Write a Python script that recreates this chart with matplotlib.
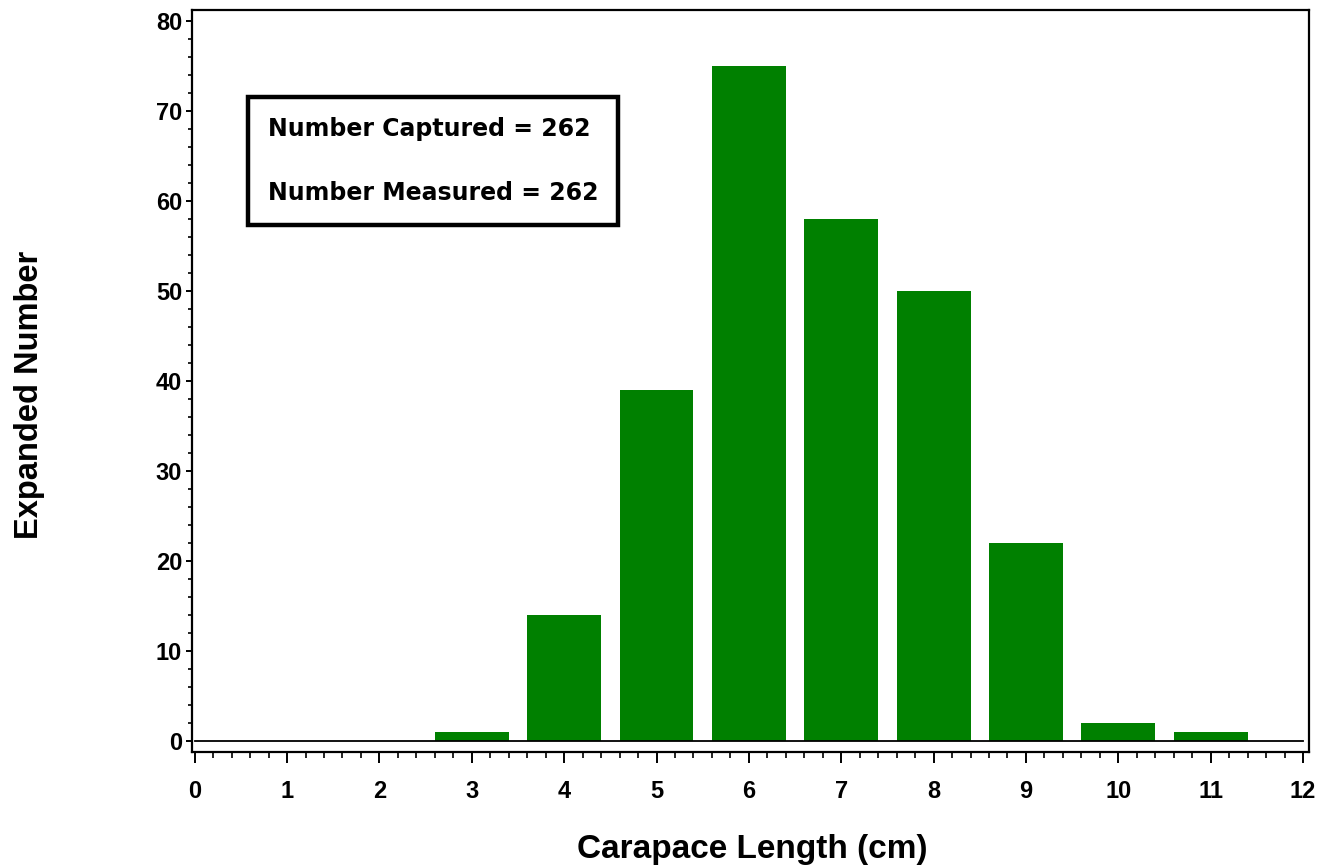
import matplotlib
matplotlib.use("Agg")
import matplotlib.pyplot as plt
import matplotlib.ticker as ticker

# carapace length classes (cm) and expanded counts
lengths = [0, 1, 2, 3, 4, 5, 6, 7, 8, 9, 10, 11]
counts = [0, 0, 0, 1, 14, 39, 75, 58, 50, 22, 2, 1]
x_ticks = list(range(0, 13))
y_ticks = [0, 10, 20, 30, 40, 50, 60, 70, 80]
n_captured = 262
n_measured = 262

plt.rcParams["font.family"] = ["Liberation Sans", "DejaVu Sans"]

fig = plt.figure(figsize=(13.33, 8.68), dpi=100)
ax = fig.add_axes([0.144, 0.1336, 0.838, 0.855])

ax.bar(lengths, counts, width=0.8, color="#008000", zorder=2)
ax.plot([0, 12], [0, 0], color="black", linewidth=1.3, zorder=3)

ax.set_xlim(-0.03, 12.065)
ax.set_ylim(-1.2, 81.2)
ax.set_xticks(x_ticks)
ax.set_yticks(y_ticks)
ax.xaxis.set_minor_locator(ticker.MultipleLocator(0.2))
ax.yaxis.set_minor_locator(ticker.MultipleLocator(2))

for sp in ax.spines.values():
    sp.set_linewidth(1.6)

ax.tick_params(axis="x", which="major", direction="out", length=8, width=1.4,
               labelsize=17, pad=12)
ax.tick_params(axis="x", which="minor", direction="out", length=4.5, width=1.2)
ax.tick_params(axis="y", which="major", direction="out", length=4, width=1.4,
               labelsize=17, pad=3)
ax.tick_params(axis="y", which="minor", direction="out", length=3, width=1.2)
for lbl in ax.get_xticklabels() + ax.get_yticklabels():
    lbl.set_fontweight("bold")

fig.text(0.564, 0.004, "Carapace Length (cm)", fontsize=24, fontweight="bold",
         ha="center", va="bottom")
fig.text(0.0225, 0.545, "Expanded Number", fontsize=23.5, fontweight="bold",
         rotation=90, ha="center", va="center")

ax.text(0.068, 0.797, f"Number Captured = {n_captured}\n\nNumber Measured = {n_measured}",
        transform=ax.transAxes, fontsize=17, fontweight="bold", family="DejaVu Sans",
        ha="left", va="center", linespacing=1.42,
        bbox=dict(boxstyle="square,pad=0.85", facecolor="white", edgecolor="black",
                  linewidth=3.2))

fig.savefig("out.png", dpi=100)
